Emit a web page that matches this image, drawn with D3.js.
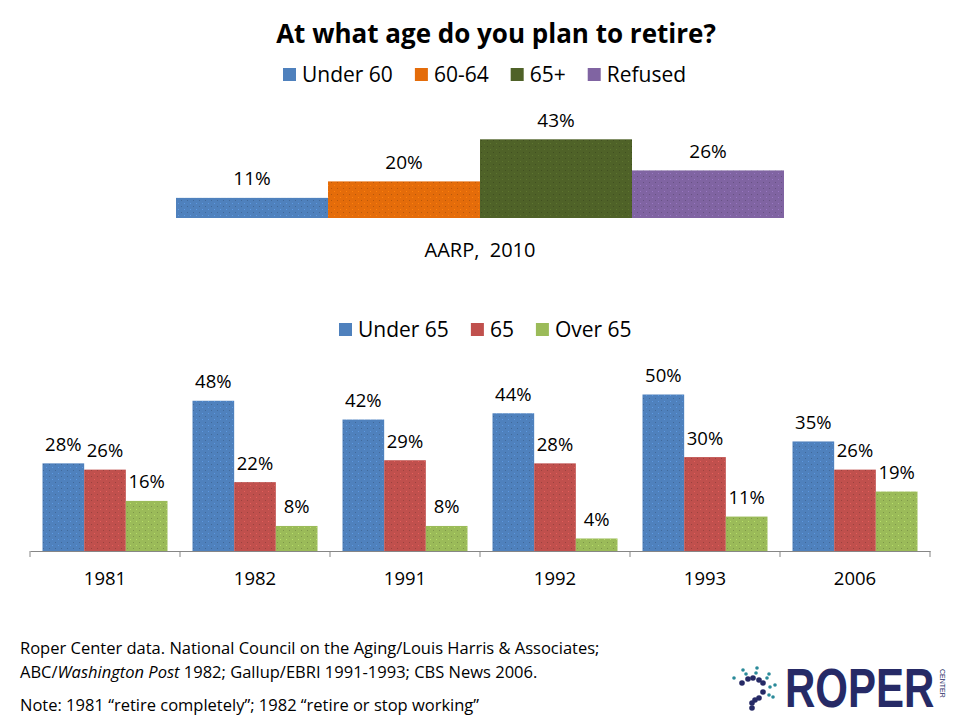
<!DOCTYPE html>
<html><head><meta charset="utf-8">
<script src="https://cdn.jsdelivr.net/npm/d3@7"></script>
<style>
body{margin:0;background:#fff;}
text{font-family:"Open Sans",Lato,sans-serif;fill:#000;}
</style></head>
<body><svg id="c" width="960" height="720"></svg>
<script>
// ---- data ----
const topCategories = ["Under 60", "60-64", "65+", "Refused"];
const topValues = [11, 20, 43, 26];
const topSource = "AARP,  2010";

const years = ["1981", "1982", "1991", "1992", "1993", "2006"];
const seriesNames = ["Under 65", "65", "Over 65"];
const under65 = [28, 48, 42, 44, 50, 35];
const at65 = [26, 22, 29, 28, 30, 26];
const over65 = [16, 8, 8, 4, 11, 19];

const topColors = ["#4F81BD", "#E46C0A", "#4F6228", "#8064A2"];
const botColors = ["#4F81BD", "#C0504D", "#9BBB59"];

const svg = d3.select("#c");

// title
svg.append("text").attr("x", 496).attr("y", 43).attr("text-anchor", "middle")
  .style("font-size", "26px").style("font-weight", "bold")
  .text("At what age do you plan to retire?");

// legend helper
function legend(names, colors, x0, baseline, fs) {
  const g = svg.append("g");
  let x = x0;
  names.forEach((n, i) => {
    g.append("rect").attr("x", x).attr("y", baseline - 14).attr("width", 13).attr("height", 13).attr("fill", colors[i]);
    const t = g.append("text").attr("x", x + 19).attr("y", baseline).style("font-size", fs + "px").text(n);
    x += 19 + t.node().getComputedTextLength() + 22;
  });
}
legend(topCategories, topColors, 283, 82, 21);

// dotted texture pattern
const defs = svg.append("defs");
function pattern(id, color) {
  const p = defs.append("pattern").attr("id", id).attr("width", 6).attr("height", 6).attr("patternUnits", "userSpaceOnUse");
  p.append("rect").attr("width", 6).attr("height", 6).attr("fill", color);
  const c = d3.color(color);
  p.append("rect").attr("x", 1).attr("y", 2).attr("width", 1).attr("height", 1).attr("fill", c.darker(0.6));
  p.append("rect").attr("x", 4).attr("y", 5).attr("width", 1).attr("height", 1).attr("fill", c.brighter(0.5));
}
topColors.forEach((c, i) => pattern("pt" + i, c));
botColors.forEach((c, i) => pattern("pb" + i, c));

// ---- top chart ----
const xTop = d3.scaleBand().domain(topCategories).range([176, 784]).padding(0);
const yTop = d3.scaleLinear().domain([0, 50]).range([218, 126.5]);
const topG = svg.append("g");
topG.selectAll("rect").data(topCategories).join("rect")
  .attr("x", d => xTop(d)).attr("width", xTop.bandwidth())
  .attr("y", (d, i) => yTop(topValues[i])).attr("height", (d, i) => yTop(0) - yTop(topValues[i]))
  .attr("fill", (d, i) => `url(#pt${i})`);
topG.selectAll("text").data(topCategories).join("text")
  .attr("x", d => xTop(d) + xTop.bandwidth() / 2)
  .attr("y", (d, i) => yTop(topValues[i]) - 12.5)
  .attr("text-anchor", "middle").style("font-size", "19px")
  .text((d, i) => topValues[i] + "%");
svg.append("text").attr("x", 480).attr("y", 257).attr("text-anchor", "middle")
  .style("font-size", "20px").style("white-space", "pre").text(topSource);

// ---- bottom chart ----
legend(seriesNames, botColors, 339, 337, 21);
const x0 = d3.scaleBand().domain(years).range([30, 930]).padding(0);
const x1 = d3.scaleBand().domain(seriesNames).range([12.5, 137.5]).padding(0);
const yB = d3.scaleLinear().domain([0, 50]).range([551, 394.5]);
const seriesVals = [under65, at65, over65];

const groups = svg.append("g").selectAll("g").data(years).join("g")
  .attr("transform", d => `translate(${x0(d)},0)`);
const cells = (d, yi) => seriesNames.map((s, si) => ({ s, si, v: seriesVals[si][yi] }));
groups.selectAll("rect").data(cells).join("rect")
  .attr("x", d => x1(d.s)).attr("width", x1.bandwidth())
  .attr("y", d => yB(d.v)).attr("height", d => yB(0) - yB(d.v))
  .attr("fill", d => `url(#pb${d.si})`);
groups.selectAll("text").data(cells).join("text")
  .attr("x", d => x1(d.s) + x1.bandwidth() / 2)
  .attr("y", d => yB(d.v) - 12.5)
  .attr("text-anchor", "middle").style("font-size", "18.5px")
  .text(d => d.v + "%");

const axis = d3.axisBottom(x0).tickSize(0).tickPadding(0);
const ax = svg.append("g").attr("transform", "translate(0,551)").call(axis);
ax.select(".domain").attr("stroke", "#868686");
ax.selectAll(".tick text").attr("y", 34).attr("dy", null).style("font-size", "18.5px")
  .style("font-family", "'Open Sans',Lato,sans-serif").attr("fill", "#000");
ax.selectAll(".div").data(d3.range(years.length + 1)).join("line")
  .attr("x1", i => 30 + i * x0.step()).attr("x2", i => 30 + i * x0.step())
  .attr("y1", 0).attr("y2", 6).attr("stroke", "#868686");

// ---- footer ----
const foot = svg.append("g").style("font-size", "16.5px");
foot.append("text").attr("x", 20).attr("y", 654)
  .text("Roper Center data. National Council on the Aging/Louis Harris & Associates;");
const l2 = foot.append("text").attr("x", 20).attr("y", 678);
l2.append("tspan").text("ABC/");
l2.append("tspan").style("font-style", "italic").text("Washington Post");
l2.append("tspan").text(" 1982; Gallup/EBRI 1991-1993; CBS News 2006.");
foot.append("text").attr("x", 20).attr("y", 711)
  .text("Note: 1981 \u201cretire completely\u201d; 1982 \u201cretire or stop working\u201d");

// ---- logo ----
const navy = "#262a66", teal = "#2a8a99";
const logo = svg.append("g");
logo.append("text").attr("transform", "translate(785,707) scale(1,1.3)")
  .style("font-family", "'Liberation Sans',Arial,sans-serif").style("font-weight", "bold")
  .style("font-size", "42px").style("fill", navy).text("ROPER");
logo.append("text").attr("transform", "translate(940,669) rotate(90)")
  .style("font-family", "'Liberation Sans',Arial,sans-serif").style("font-size", "7px")
  .style("fill", navy).text("CENTER");
const bigDots = [[742,683],[748,679],[753,678],[759,680],[763,683],[763,692],[759,698],[755,700],[752,703],[752,708]];
const smallDots = [[734,678],[743,670],[746,674],[757,668],[756,673],[769,674],[767,678],[775,685],[770,687],[773,697],[769,695]];
logo.selectAll(".bd").data(bigDots).join("circle").attr("cx", d => d[0]).attr("cy", d => d[1]).attr("r", 2.8).attr("fill", navy);
logo.selectAll(".sd").data(smallDots).join("circle").attr("cx", d => d[0]).attr("cy", d => d[1]).attr("r", 1.8).attr("fill", teal);
</script></body></html>
